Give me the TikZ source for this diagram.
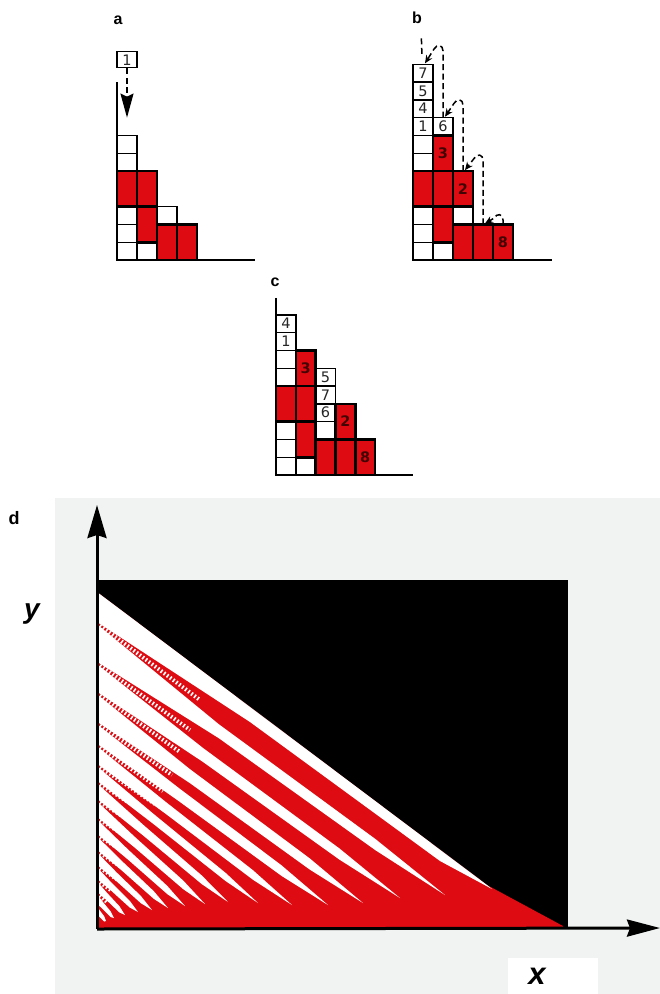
\documentclass[tikz,border=0pt]{standalone}
\usepackage{fontspec}
\setsansfont{Liberation Sans}
\newfontfamily\digitfont{DejaVu Sans}
\usetikzlibrary{arrows.meta}

\definecolor{pilered}{RGB}{222,12,18}
\definecolor{paper}{RGB}{240,243,241}

\begin{document}
\begin{tikzpicture}[
    x=1pt, y=-1pt,
    >={Stealth[length=8pt, width=7pt]},
    cell/.style={draw=black, line width=1.4pt, fill=white},
    redblock/.style={draw=black, line width=2.6pt, fill=pilered},
    baseaxis/.style={line width=1.8pt, black},
    grain/.style={dash pattern=on 6pt off 3.5pt, line width=1.5pt},
    panel/.style={font=\sffamily\bfseries\fontsize{16}{16}\selectfont},
    num/.style={font=\digitfont\fontsize{14.5}{14.5}\selectfont, text=black!85},
    rednum/.style={font=\digitfont\bfseries\fontsize{14.5}{14.5}\selectfont, text=black!70!pilered},
    daxis/.style={line width=3pt, black},
    varlabel/.style={font=\sffamily\bfseries\itshape\fontsize{28}{28}\selectfont}
]
\useasboundingbox (0,0) rectangle (660,994);

% a: one grain dropped on the pile
\node[panel] (labA) at (118,20) {a};
\begin{scope}[shift={(117,260)}, x=20pt, y=17.8pt]
    \foreach \c/\r in {0/0,0/1,0/2,0/5,0/6,1/0,2/2}
        \draw[cell] (\c,\r) rectangle ++(1,1);
    \foreach \c/\r in {0/3,1/1,1/3,2/0,3/0}
        \draw[redblock] (\c,\r) rectangle ++(1,2);
    \draw[baseaxis] (0,10) -- (0,0) -- (6.9,0);
    \node[cell, num, minimum width=20pt, minimum height=16pt, inner sep=0pt] (grainA) at (0.5,11.25) {1};
    \coordinate (dropA) at (0.5,8);
    \draw[grain, -{Stealth[length=24pt, width=13pt, inset=3pt]}] (grainA.south) -- (dropA);
\end{scope}

% b: grains sliding down
\node[panel] (labB) at (417,18) {b};
\begin{scope}[shift={(413,260)}, x=20pt, y=17.8pt]
    \foreach \c/\r in {0/0,0/1,0/2,0/5,0/6,1/0,2/2}
        \draw[cell] (\c,\r) rectangle ++(1,1);
    \foreach \c/\r/\t in {0/7/1,0/8/4,0/9/5,0/10/7,1/7/6}{
        \draw[cell] (\c,\r) rectangle ++(1,1);
        \node[num] (b\t) at (\c+0.5,\r+0.5) {\t};
    }
    \foreach \c/\r in {0/3,1/1,1/3,2/0,3/0}
        \draw[redblock] (\c,\r) rectangle ++(1,2);
    \foreach \c/\r/\t in {1/5/3,2/3/2,4/0/8}{
        \draw[redblock] (\c,\r) rectangle ++(1,2);
        \node[rednum] (b\t) at (\c+0.5,\r+1) {\t};
    }
    \draw[baseaxis] (0,11) -- (0,0) -- (6.93,0);
    \foreach \k/\h in {0/11,1/8,2/5,3/2,4/2}{
        \coordinate (btop\k) at (\k+0.5,\h);
        \coordinate (btip\k) at (\k+0.6,\h+0.05);
    }
    \coordinate (bin) at (0.42,12.45);
    \draw[grain] (bin) -- (0.45,11.4);
    \foreach \k/\j/\h/\lift in {1/0/11/1.05,2/1/8/1.0,3/2/5/0.9,4/3/2/0.55}
        \draw[grain, ->] (btop\k) -- (\k+0.5,\h+\lift-0.3)
            .. controls (\k+0.5,\h+\lift+0.05) and (\k+0.2,\h+\lift+0.1) .. (\k+0.05,\h+\lift-0.2)
            -- (btip\j);
\end{scope}

% c: pile after the avalanche
\node[panel] (labC) at (275,282) {c};
\begin{scope}[shift={(276,475)}, x=19.8pt, y=17.8pt]
    \foreach \c/\r in {0/0,0/1,0/2,0/5,0/6,1/0,2/2}
        \draw[cell] (\c,\r) rectangle ++(1,1);
    \foreach \c/\r/\t in {0/7/1,0/8/4,2/3/6,2/4/7,2/5/5}{
        \draw[cell] (\c,\r) rectangle ++(1,1);
        \node[num] (c\t) at (\c+0.5,\r+0.5) {\t};
    }
    \foreach \c/\r in {0/3,1/1,1/3,2/0,3/0}
        \draw[redblock] (\c,\r) rectangle ++(1,2);
    \foreach \c/\r/\t in {1/5/3,3/2/2,4/0/8}{
        \draw[redblock] (\c,\r) rectangle ++(1,2);
        \node[rednum] (c\t) at (\c+0.5,\r+1) {\t};
    }
    \draw[baseaxis] (0,9.95) -- (0,0) -- (6.9,0);
\end{scope}

% d: large pile
\fill[paper] (55,498) rectangle (660,994);
\fill[white] (508,958) rectangle (598,994);
\node[font=\sffamily\bfseries\fontsize{18}{18}\selectfont] (labD) at (14,518) {d};
\coordinate (O) at (97,929);
\coordinate (ytip) at (97,505);
\coordinate (xtip) at (660,928);
\fill[black] (97,580) rectangle (568,928);
\fill[pilered] (97,592) -- (487,885) -- (563,926) -- (563,928) -- (97,928) -- cycle;
\fill[white] (97,592) -- (487,885) -- (492,889) -- (440,861) -- (250,722) -- (97,622) -- cycle;
\foreach \ya/\yb/\tx/\ty in {623/663/445/895, 663/693/400/898, 693/723/363/903,
        723/745/328/905, 745/765/292/905, 765/782/258/903, 782/800/228/902,
        800/818/205/904, 818/835/185/906, 835/851/168/908, 851/866/152/910,
        866/880/138/912, 880/893/125/915, 893/905/114/918, 905/916/106/921}{
    \pgfmathsetmacro\cy{(\ya+\yb)/2}
    \pgfmathsetmacro\hw{min(7,0.3*(\yb-\ya))}
    \pgfmathsetmacro\hwb{0.8*\hw}
    \pgfmathsetmacro\px{97+0.35*(\tx-97)}
    \pgfmathsetmacro\py{\cy+0.35*(\ty-\cy)}
    \pgfmathsetmacro\qx{97+0.8*(\tx-97)}
    \pgfmathsetmacro\qy{\cy+0.8*(\ty-\cy)}
    \fill[white] (97,\ya+1.3) -- (\px,\py-\hw) -- (\qx,\qy-\hwb) -- (\tx,\ty)
        -- (\qx,\qy+\hwb) -- (\px,\py+\hw) -- (97,\yb-1.3) -- cycle;
}
\foreach \ya/\ex/\ey in {623/200/700, 663/190/730, 693/180/752, 723/172/775,
        745/163/791, 765/155/804, 782/148/815, 800/141/828, 818/135/842,
        835/129/855, 851/123/868, 866/118/880, 880/112/891, 893/107/902}
    \draw[white, line width=4pt, dash pattern=on 1.6pt off 2.2pt] (97,\ya) -- (\ex,\ey);
\draw[daxis, -{Stealth[length=33pt, width=19pt, inset=3pt]}] (O) -- (ytip);
\draw[daxis, -{Stealth[length=33pt, width=17pt, inset=3pt]}] (O) -- (xtip);
\node[varlabel] (ylab) at (32,614) {y};
\node[varlabel, font=\sffamily\bfseries\itshape\fontsize{31}{31}\selectfont] (xlab) at (537,976) {x};
\end{tikzpicture}
\end{document}
